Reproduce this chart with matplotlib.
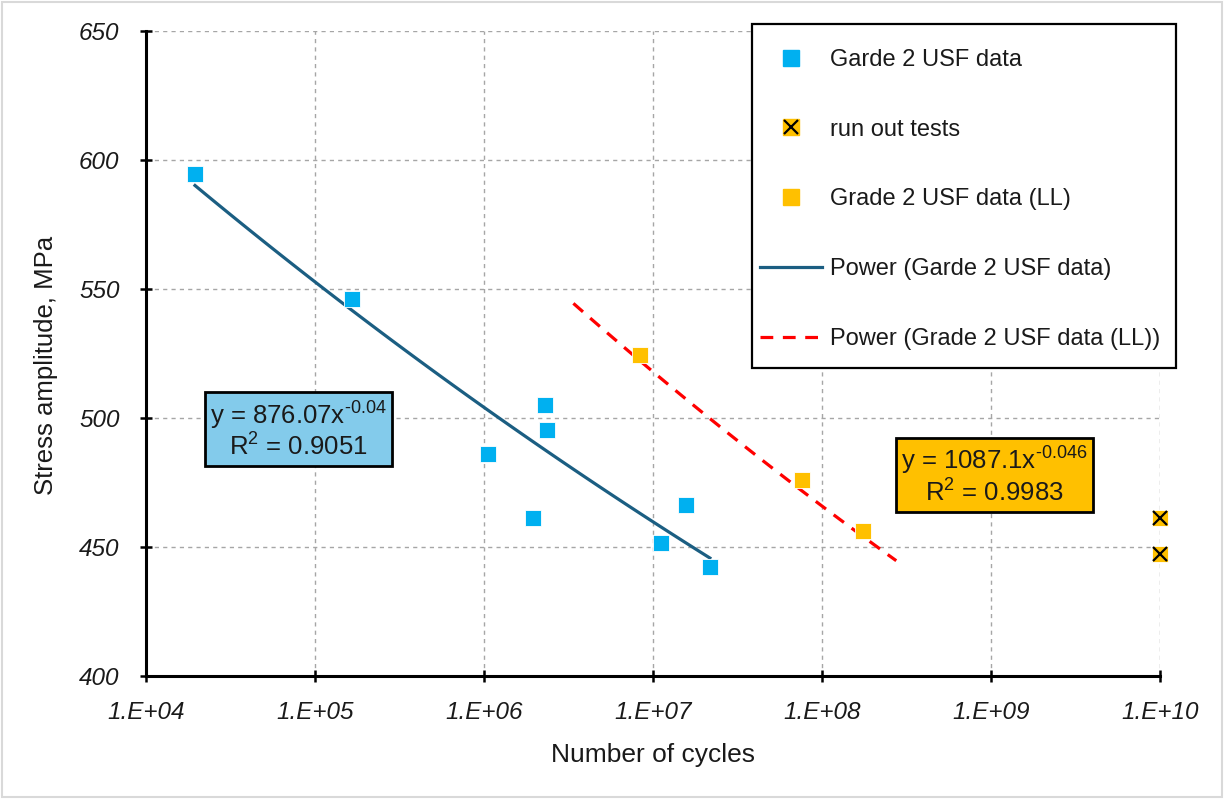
import numpy as np
import matplotlib
matplotlib.use("Agg")
import matplotlib.pyplot as plt
from matplotlib.patches import Rectangle
from matplotlib.lines import Line2D
from matplotlib.legend_handler import HandlerTuple

# ---------------- data ----------------
usf_cycles = [1.95e4, 1.66e5, 1.06e6, 1.95e6, 2.30e6, 2.36e6, 1.11e7, 1.57e7, 2.17e7]
usf_stress = [594.6, 546.1, 486.0, 461.2, 505.0, 495.3, 451.6, 466.3, 442.2]

ll_cycles = [8.38e6, 7.62e7, 1.75e8]
ll_stress = [524.4, 476.0, 456.2]

runout_cycles = [1.0e10, 1.0e10]
runout_stress = [461.2, 447.3]

# trendline coefficients as shown on chart
usf_coef, usf_exp, usf_r2 = 876.07, -0.04, 0.9051
ll_coef, ll_exp, ll_r2 = 1087.1, -0.046, 0.9983
ll_backward, ll_forward = 5e6, 1e8

xtick_vals = [1e4, 1e5, 1e6, 1e7, 1e8, 1e9, 1e10]
xtick_labels = ["1.E+04", "1.E+05", "1.E+06", "1.E+07", "1.E+08", "1.E+09", "1.E+10"]
ytick_vals = [400, 450, 500, 550, 600, 650]

labels = ["Garde 2 USF data", "run out tests", "Grade 2 USF data (LL)",
          "Power (Garde 2 USF data)", "Power (Grade 2 USF data (LL))"]
usf_eq = ["876.07", "-0.04", "0.9051"]
ll_eq = ["1087.1", "-0.046", "0.9983"]

# ---------------- style ----------------
plt.rcParams['font.family'] = ['Liberation Sans', 'DejaVu Sans']
plt.rcParams['mathtext.fontset'] = 'custom'
plt.rcParams['mathtext.rm'] = 'Liberation Sans'
plt.rcParams['mathtext.it'] = 'Liberation Sans:italic'
plt.rcParams['mathtext.bf'] = 'Liberation Sans:bold'

BLUE = '#00B0F0'
ORANGE = '#FFC000'
TREND_BLUE = '#1B5E82'
RED = '#FF0000'
TXT = '#1a1a1a'

fig = plt.figure(figsize=(12.24, 7.99), dpi=100)
ax = fig.add_axes([146/1224, 1-676/799, (1160-146)/1224, (676-31)/799])

# trendlines
x1 = np.logspace(np.log10(min(usf_cycles)), np.log10(max(usf_cycles)), 100)
ax.plot(x1, usf_coef * x1**usf_exp, color=TREND_BLUE, lw=2.3, zorder=3)
x2 = np.logspace(np.log10(min(ll_cycles) - ll_backward), np.log10(max(ll_cycles) + ll_forward), 100)
ax.plot(x2, ll_coef * x2**ll_exp, color=RED, lw=2.3, ls=(0, (4, 3)), zorder=3)

# points
ms = 12
ax.plot(usf_cycles, usf_stress, 's', color=BLUE, ms=ms, mec='white', mew=0.6, zorder=4)
ax.plot(ll_cycles, ll_stress, 's', color=ORANGE, ms=ms, mec='white', mew=0.6, zorder=4)
ax.plot(runout_cycles, runout_stress, 's', color=ORANGE, ms=ms, mec='white', mew=0.6,
        zorder=4, clip_on=False)
ax.plot(runout_cycles, runout_stress, 'x', color='black', ms=10, mew=1.6, zorder=5, clip_on=False)

ax.set_xscale('log')
ax.set_xlim(1e4, 1e10)
ax.set_ylim(400, 650)
ax.set_xticks(xtick_vals)
ax.set_xticklabels(xtick_labels)
ax.xaxis.set_minor_locator(matplotlib.ticker.NullLocator())
ax.set_yticks(ytick_vals)

for s in ['top', 'right']:
    ax.spines[s].set_visible(False)
for s in ['left', 'bottom']:
    ax.spines[s].set_linewidth(2.2)
    ax.spines[s].set_color('black')

ax.tick_params(axis='both', which='major', direction='inout', length=8, width=1.8,
               color='black', labelsize=17.5, labelcolor=TXT)
ax.tick_params(axis='x', pad=14)
ax.tick_params(axis='y', pad=15)
for lab in ax.get_xticklabels() + ax.get_yticklabels():
    lab.set_fontstyle('italic')

ax.grid(True, which='major', color='#A6A6A6', ls=(0, (3, 3)), lw=1.0)
ax.set_axisbelow(True)

ax.set_xlabel("Number of cycles", fontsize=19, color=TXT, labelpad=14)
ax.set_ylabel("Stress amplitude, MPa", fontsize=18.5, color=TXT, labelpad=12)
ax.yaxis.set_label_coords(-0.087, 0.482)


def eq_text(eq):
    return ("y = %sx$^{\\text{%s}}$\nR$^{\\mathregular{2}}$ = %s" % (eq[0], eq[1], eq[2]))


# equation boxes
ax.text(0.150, 0.381, eq_text(usf_eq),
        transform=ax.transAxes, ha='center', va='center', fontsize=18.5, color=TXT,
        linespacing=1.1, zorder=6,
        bbox=dict(boxstyle='square,pad=0.2', facecolor='#83CBEB', edgecolor='black', lw=2))
ax.text(0.837, 0.310, eq_text(ll_eq),
        transform=ax.transAxes, ha='center', va='center', fontsize=18.5, color=TXT,
        linespacing=1.1, zorder=6,
        bbox=dict(boxstyle='square,pad=0.2', facecolor=ORANGE, edgecolor='black', lw=2))

# legend
h_usf = Line2D([], [], marker='s', color=BLUE, ls='none', ms=ms)
h_ro_sq = Line2D([], [], marker='s', color=ORANGE, ls='none', ms=ms)
h_ro_x = Line2D([], [], marker='x', color='black', ls='none', ms=10, mew=1.6)
h_ll = Line2D([], [], marker='s', color=ORANGE, ls='none', ms=ms)
h_t1 = Line2D([], [], color=TREND_BLUE, lw=2.3)
h_t2 = Line2D([], [], color=RED, lw=2.3, ls=(0, (4, 3)))
leg = fig.legend([h_usf, (h_ro_sq, h_ro_x), h_ll, h_t1, h_t2], labels,
                 loc='upper left', bbox_to_anchor=(760/1224, 1-49/799),
                 fontsize=17, frameon=False,
                 labelspacing=2.02, handlelength=2.63, handletextpad=0.34,
                 borderpad=0, borderaxespad=0,
                 handler_map={tuple: HandlerTuple(ndivide=1, pad=0)})
for t in leg.get_texts():
    t.set_color(TXT)

# legend frame
fig.patches.append(Rectangle((752/1224, 1-368/799), (1176-752)/1224, (368-24)/799,
                             transform=fig.transFigure, fill=True, facecolor='white',
                             edgecolor='black', lw=1.6, zorder=0.5))

# outer border
fig.patches.append(Rectangle((0.002, 0.003), 0.996, 0.994, transform=fig.transFigure,
                             fill=False, edgecolor='#D9D9D9', lw=1.5))

fig.savefig("out.png", dpi=100)
